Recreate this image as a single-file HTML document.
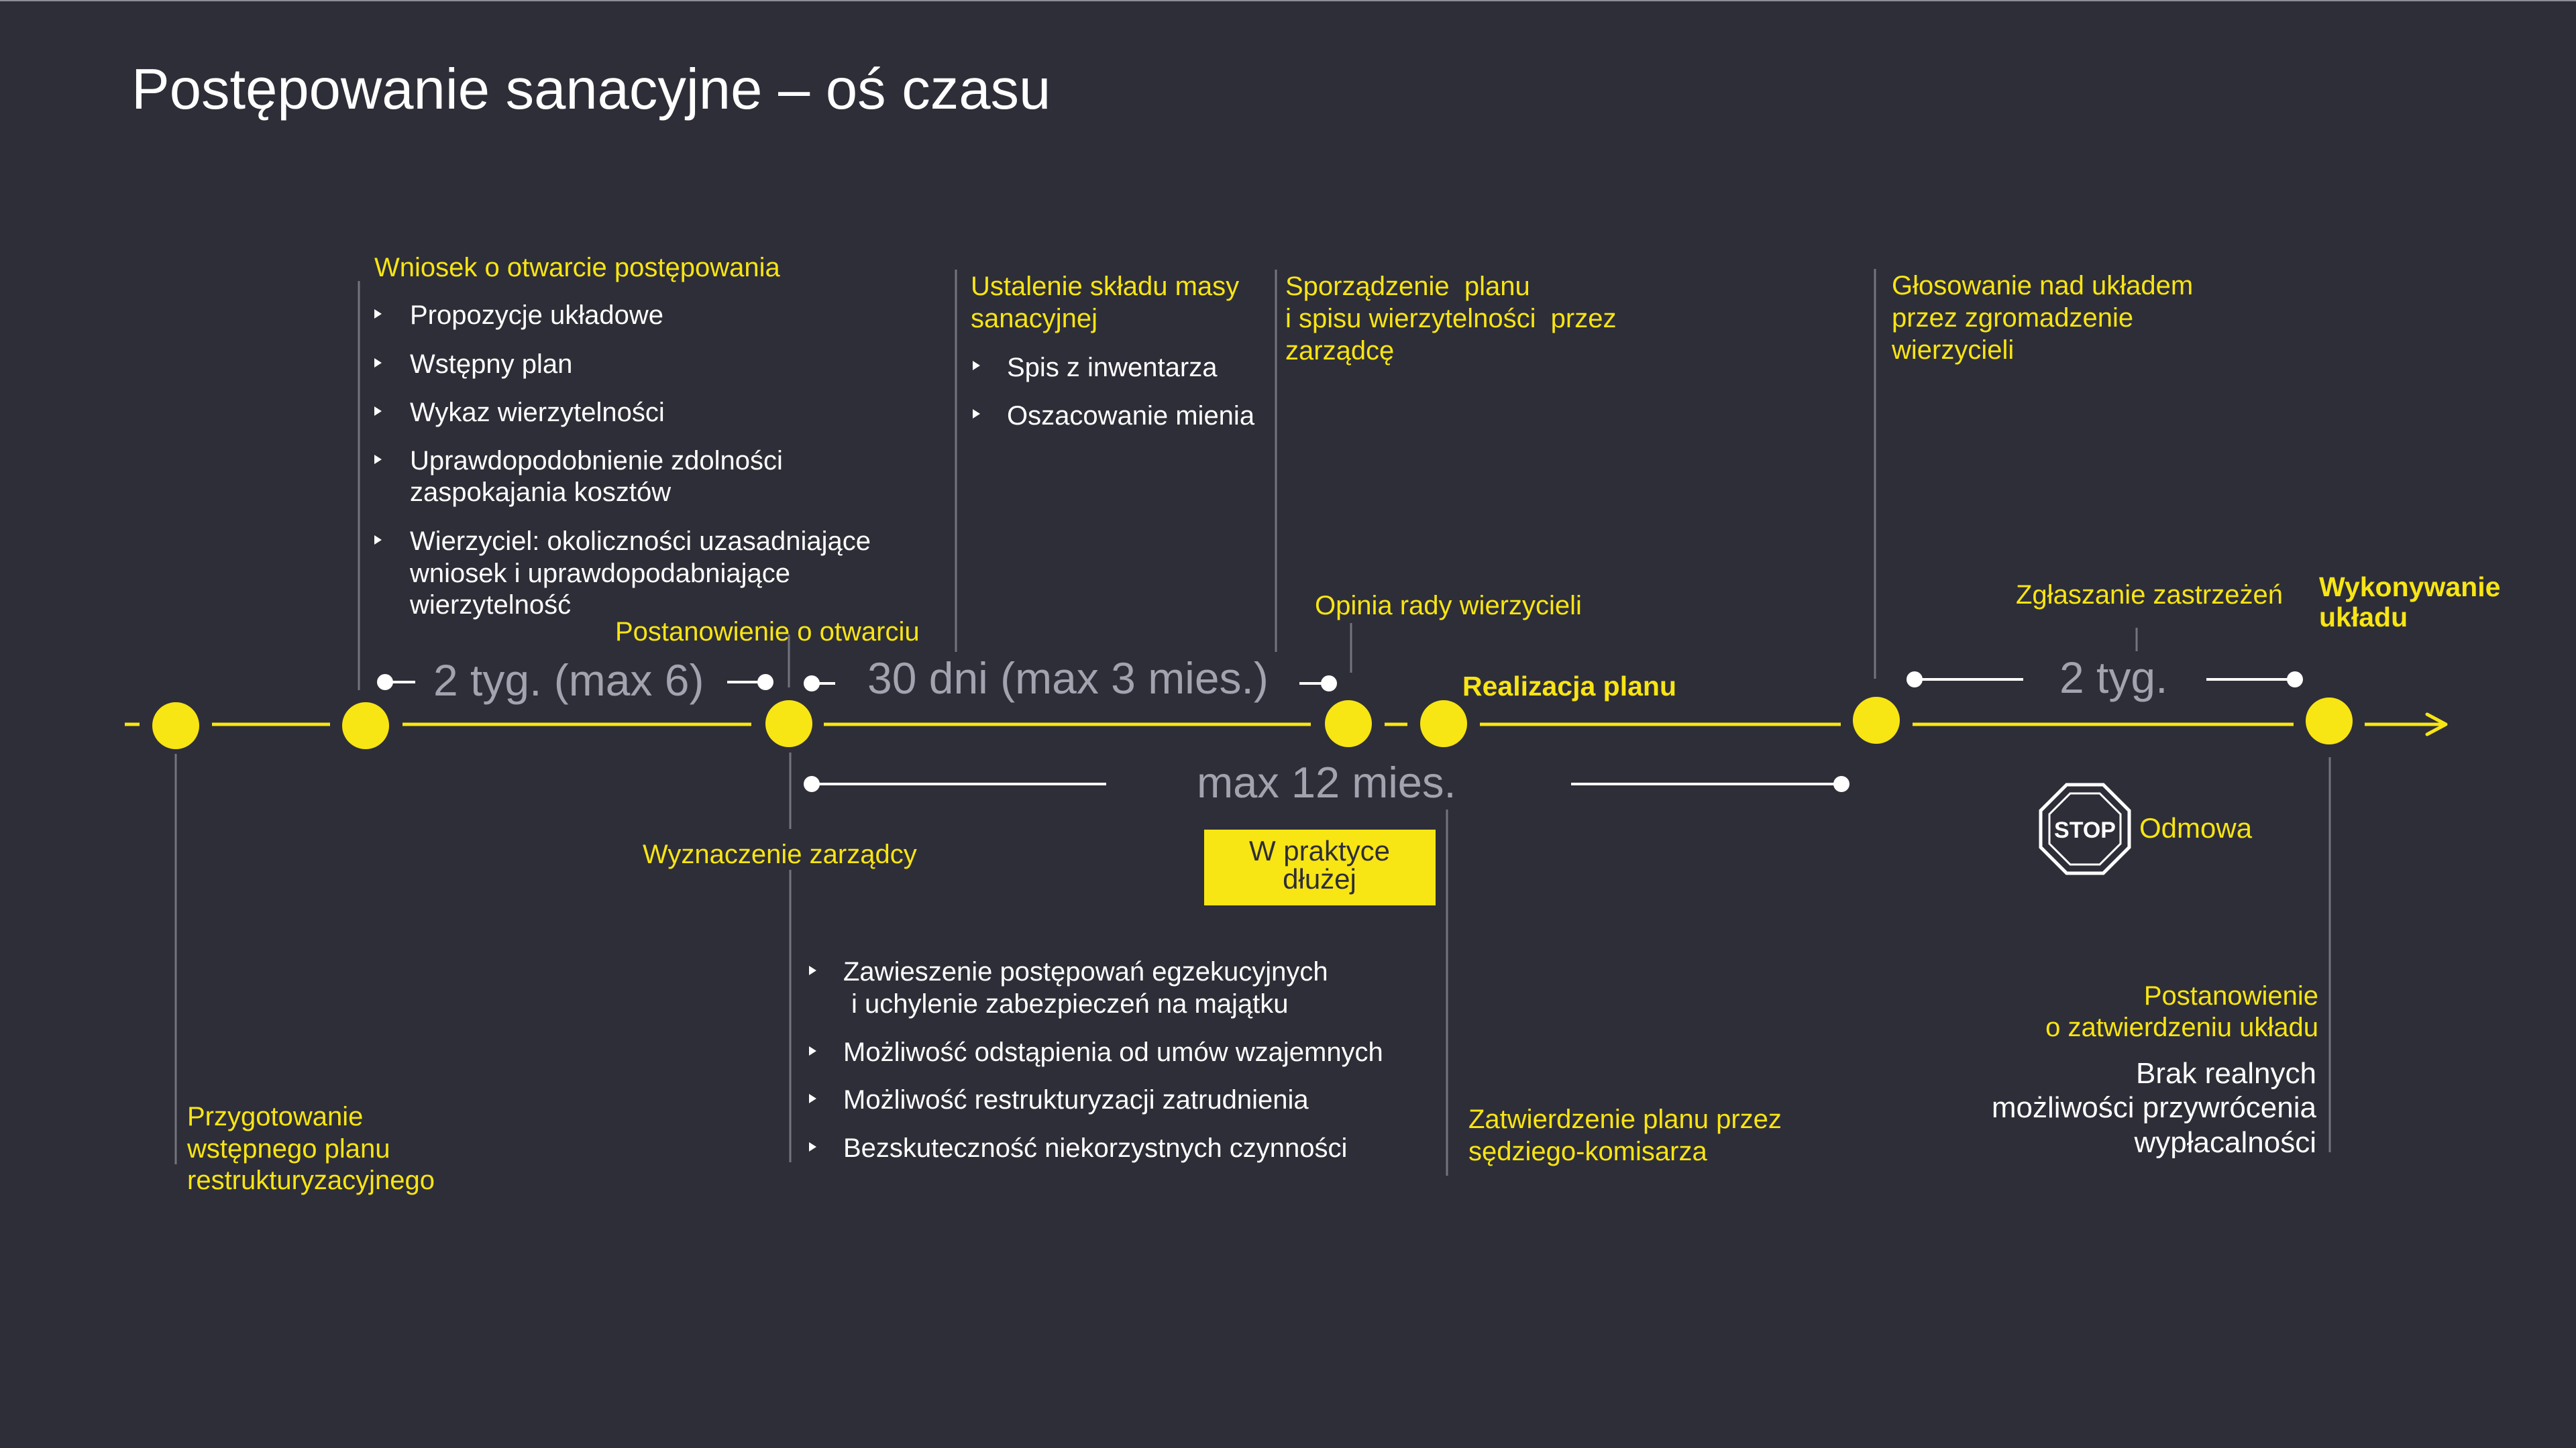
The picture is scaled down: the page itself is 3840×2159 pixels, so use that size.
<!DOCTYPE html>
<html>
<head>
<meta charset="utf-8">
<style>
  html, body { margin:0; padding:0; background:#2e2e38; }
  body { width:3840px; height:2159px; overflow:hidden; position:relative; }
  svg { position:absolute; left:0; top:0; }
  text { font-family:"Liberation Sans", "DejaVu Sans", sans-serif; }
  .y { fill:#f8e514; font-size:40px; }
  .w { fill:#ffffff; font-size:40px; }
  .g { fill:#a3a3b0; font-size:66px; }
  .b { font-weight:bold; font-size:41px; fill:#f8e514; }
  .pre { white-space:pre; }
</style>
</head>
<body>
<svg width="3840" height="2159" viewBox="0 0 3840 2159" xmlns="http://www.w3.org/2000/svg">
  <rect x="0" y="0" width="3840" height="2159" fill="#2e2e38"/>
  <rect x="0" y="0" width="3840" height="2" fill="#8c8c94"/>

  <!-- Title -->
  <text x="196" y="162" fill="#ffffff" style="font-size:85px">Postępowanie sanacyjne – oś czasu</text>

  <!-- Vertical grey connectors -->
  <g stroke="#747480" stroke-width="3" fill="none">
    <line x1="262" y1="1124" x2="262" y2="1736"/>
    <line x1="535" y1="419" x2="535" y2="1029"/>
    <line x1="1176" y1="946" x2="1176" y2="1025"/>
    <line x1="1178" y1="1122" x2="1178" y2="1236"/>
    <line x1="1178" y1="1297" x2="1178" y2="1733"/>
    <line x1="1425" y1="402" x2="1425" y2="972"/>
    <line x1="1902" y1="402" x2="1902" y2="972"/>
    <line x1="2014" y1="929" x2="2014" y2="1003"/>
    <line x1="2157" y1="1207" x2="2157" y2="1753"/>
    <line x1="2795" y1="401" x2="2795" y2="1012"/>
    <line x1="3185" y1="936" x2="3185" y2="971"/>
    <line x1="3473" y1="1129" x2="3473" y2="1718"/>
  </g>

  <!-- Main timeline -->
  <g stroke="#f8e514" stroke-width="5" fill="none">
    <line x1="186" y1="1080" x2="208" y2="1080"/>
    <line x1="316" y1="1080" x2="492" y2="1080"/>
    <line x1="600" y1="1080" x2="1120" y2="1080"/>
    <line x1="1228" y1="1080" x2="1954" y2="1080"/>
    <line x1="2064" y1="1080" x2="2098" y2="1080"/>
    <line x1="2206" y1="1080" x2="2744" y2="1080"/>
    <line x1="2851" y1="1080" x2="3419" y2="1080"/>
    <line x1="3525" y1="1080" x2="3645" y2="1080"/>
    <polyline points="3618,1065 3646,1080 3618,1095" stroke-linecap="round" stroke-linejoin="round"/>
  </g>
  <g fill="#f8e514">
    <circle cx="262" cy="1082" r="35"/>
    <circle cx="545" cy="1082" r="35"/>
    <circle cx="1176" cy="1079" r="35"/>
    <circle cx="2010" cy="1079" r="35"/>
    <circle cx="2152" cy="1079" r="35"/>
    <circle cx="2797" cy="1074" r="35"/>
    <circle cx="3472" cy="1075" r="35"/>
  </g>

  <!-- Duration brackets (white) -->
  <g stroke="#ffffff" stroke-width="4">
    <line x1="574" y1="1017" x2="619" y2="1017"/>
    <line x1="1084" y1="1017" x2="1141" y2="1017"/>
    <line x1="1210" y1="1019" x2="1245" y2="1019"/>
    <line x1="1937" y1="1019" x2="1981" y2="1019"/>
    <line x1="2854" y1="1013" x2="3016" y2="1013"/>
    <line x1="3289" y1="1013" x2="3421" y2="1013"/>
    <line x1="1210" y1="1169" x2="1649" y2="1169"/>
    <line x1="2342" y1="1169" x2="2745" y2="1169"/>
  </g>
  <g fill="#ffffff">
    <circle cx="574" cy="1017" r="12"/>
    <circle cx="1141" cy="1017" r="12"/>
    <circle cx="1210" cy="1019" r="12"/>
    <circle cx="1981" cy="1019" r="12"/>
    <circle cx="2854" cy="1013" r="12"/>
    <circle cx="3421" cy="1013" r="12"/>
    <circle cx="1210" cy="1169" r="12"/>
    <circle cx="2745" cy="1169" r="12"/>
  </g>
  <text class="g" x="646" y="1037">2 tyg. (max 6)</text>
  <text class="g" x="1293" y="1034">30 dni (max 3 mies.)</text>
  <text class="g" x="3070" y="1033">2 tyg.</text>
  <text class="g" x="1784" y="1189" style="font-size:65px">max 12 mies.</text>

  <!-- Wniosek block -->
  <text class="y" x="558" y="412">Wniosek o otwarcie postępowania</text>
  <g fill="#ffffff">
    <polygon points="558,461 558,475 569,468"/>
    <polygon points="558,534 558,548 569,541"/>
    <polygon points="558,606 558,620 569,613"/>
    <polygon points="558,678 558,692 569,685"/>
    <polygon points="558,798 558,812 569,805"/>
  </g>
  <text class="w" x="611" y="483">Propozycje układowe</text>
  <text class="w" x="611" y="556">Wstępny plan</text>
  <text class="w" x="611" y="628">Wykaz wierzytelności</text>
  <text class="w" x="611" y="700">Uprawdopodobnienie zdolności</text>
  <text class="w" x="611" y="747">zaspokajania kosztów</text>
  <text class="w" x="611" y="820">Wierzyciel: okoliczności uzasadniające</text>
  <text class="w" x="611" y="868">wniosek i uprawdopodabniające</text>
  <text class="w" x="611" y="915">wierzytelność</text>

  <text class="y" x="917" y="955">Postanowienie o otwarciu</text>

  <!-- Ustalenie block -->
  <text class="y" x="1447" y="440">Ustalenie składu masy</text>
  <text class="y" x="1447" y="488">sanacyjnej</text>
  <g fill="#ffffff">
    <polygon points="1450,538 1450,552 1461,545"/>
    <polygon points="1450,610 1450,624 1461,617"/>
  </g>
  <text class="w" x="1501" y="561">Spis z inwentarza</text>
  <text class="w" x="1501" y="633">Oszacowanie mienia</text>

  <!-- Sporządzenie -->
  <text class="y pre" x="1916" y="440">Sporządzenie  planu</text>
  <text class="y pre" x="1916" y="488">i spisu wierzytelności  przez</text>
  <text class="y" x="1916" y="536">zarządcę</text>

  <text class="y" x="1960" y="916">Opinia rady wierzycieli</text>
  <text class="b" x="2180" y="1037">Realizacja planu</text>

  <!-- Głosowanie -->
  <text class="y" x="2820" y="439">Głosowanie nad układem</text>
  <text class="y" x="2820" y="487">przez zgromadzenie</text>
  <text class="y" x="2820" y="535">wierzycieli</text>

  <text class="y" x="3005" y="900">Zgłaszanie zastrzeżeń</text>
  <text class="b" x="3457" y="889">Wykonywanie</text>
  <text class="b" x="3457" y="934">układu</text>

  <!-- Below timeline -->
  <text class="y" x="958" y="1287">Wyznaczenie zarządcy</text>

  <rect x="1795" y="1237" width="345" height="113" fill="#f8e514"/>
  <text x="1967" y="1283" text-anchor="middle" fill="#2e2e38" style="font-size:42px">W praktyce</text>
  <text x="1967" y="1325" text-anchor="middle" fill="#2e2e38" style="font-size:42px">dłużej</text>

  <g fill="#ffffff">
    <polygon points="1206,1440 1206,1454 1217,1447"/>
    <polygon points="1206,1560 1206,1574 1217,1567"/>
    <polygon points="1206,1631 1206,1645 1217,1638"/>
    <polygon points="1206,1703 1206,1717 1217,1710"/>
  </g>
  <text class="w" x="1257" y="1462">Zawieszenie postępowań egzekucyjnych</text>
  <text class="w" x="1269" y="1510">i uchylenie zabezpieczeń na majątku</text>
  <text class="w" x="1257" y="1582">Możliwość odstąpienia od umów wzajemnych</text>
  <text class="w" x="1257" y="1653">Możliwość restrukturyzacji zatrudnienia</text>
  <text class="w" x="1257" y="1725">Bezskuteczność niekorzystnych czynności</text>

  <text class="y" x="2189" y="1682">Zatwierdzenie planu przez</text>
  <text class="y" x="2189" y="1730">sędziego-komisarza</text>

  <text class="y" x="279" y="1678">Przygotowanie</text>
  <text class="y" x="279" y="1726">wstępnego planu</text>
  <text class="y" x="279" y="1773">restrukturyzacyjnego</text>

  <!-- STOP sign -->
  <polygon points="3080.7,1170 3135.3,1170 3174,1208.7 3174,1263.3 3135.3,1302 3080.7,1302 3042,1263.3 3042,1208.7" fill="none" stroke="#ffffff" stroke-width="5"/>
  <polygon points="3086,1183 3130,1183 3161,1214 3161,1258 3130,1289 3086,1289 3055,1258 3055,1214" fill="none" stroke="#ffffff" stroke-width="3"/>
  <text x="3108" y="1249" text-anchor="middle" fill="#ffffff" style="font-size:34px;font-weight:bold">STOP</text>
  <text x="3189" y="1249" fill="#f8e514" style="font-size:42px">Odmowa</text>

  <text class="y" x="3456" y="1498" text-anchor="end">Postanowienie</text>
  <text class="y" x="3456" y="1545" text-anchor="end">o zatwierdzeniu układu</text>
  <text x="3453" y="1615" text-anchor="end" fill="#ffffff" style="font-size:44px">Brak realnych</text>
  <text x="3453" y="1666" text-anchor="end" fill="#ffffff" style="font-size:44px">możliwości przywrócenia</text>
  <text x="3453" y="1718" text-anchor="end" fill="#ffffff" style="font-size:44px">wypłacalności</text>
</svg>
</body>
</html>
